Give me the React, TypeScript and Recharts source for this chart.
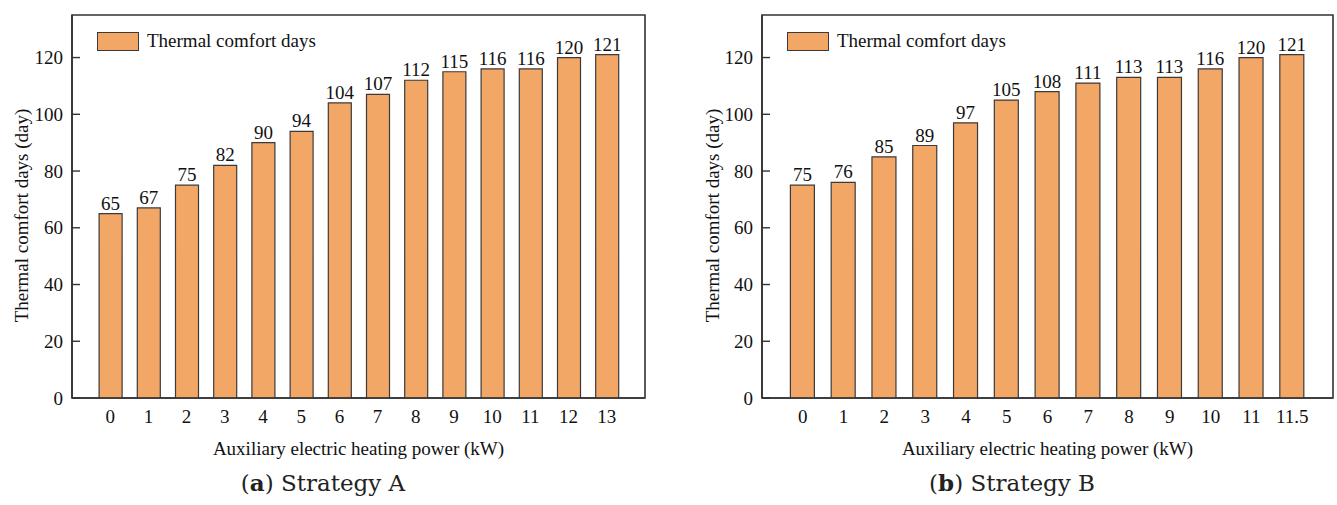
import React from "react";
import { BarChart, Bar, XAxis, YAxis, Legend, LabelList, ReferenceArea } from "recharts";

// Strategy A
const powerA = ["0", "1", "2", "3", "4", "5", "6", "7", "8", "9", "10", "11", "12", "13"];
const daysA = [65, 67, 75, 82, 90, 94, 104, 107, 112, 115, 116, 116, 120, 121];

// Strategy B
const powerB = ["0", "1", "2", "3", "4", "5", "6", "7", "8", "9", "10", "11", "11.5"];
const daysB = [75, 76, 85, 89, 97, 105, 108, 111, 113, 113, 116, 120, 121];

const yTicks = [0, 20, 40, 60, 80, 100, 120];
const Y_MAX = 135;

const FONT = "'Liberation Serif', 'Times New Roman', serif";
const CAPTION_FONT = "'DejaVu Serif', serif";
const FS = 19;
const FILL = "#F3A766";
const EDGE = "#3a3a3a";
const AXIS = "#333333";

const YTick = (props: any) => {
  const { x, y, payload } = props;
  return (
    <g>
      <line x1={x + 9} x2={x + 17} y1={y} y2={y} stroke={AXIS} strokeWidth={1.4} />
      <text x={x} y={y} dy="0.35em" textAnchor="end" fontFamily={FONT} fontSize={FS} fill="#111">
        {payload.value}
      </text>
    </g>
  );
};

// rotated y title, a bit below the plot middle like the original
const YTitle = (props: any) => {
  const { viewBox, xPos, shift } = props;
  if (!viewBox) return null;
  const x = viewBox.x + xPos;
  const y = viewBox.y + viewBox.height / 2 + shift;
  return (
    <text
      x={x}
      y={y}
      transform={`rotate(-90, ${x}, ${y})`}
      textAnchor="middle"
      dominantBaseline="central"
      fontFamily={FONT}
      fontSize={FS}
      fill="#111"
    >
      Thermal comfort days (day)
    </text>
  );
};

const LegendBox = (props: any) => {
  const item = props.payload && props.payload[0];
  return (
    <div style={{ display: "flex", alignItems: "center", fontFamily: FONT, fontSize: FS, color: "#111" }}>
      <span
        style={{
          width: 42,
          height: 19,
          background: FILL,
          border: `1px solid ${EDGE}`,
          boxSizing: "border-box",
          marginRight: 8,
          display: "inline-block",
        }}
      />
      <span>{item ? item.value : ""}</span>
    </div>
  );
};

interface PanelProps {
  left: number;
  width: number;
  marginRight: number;
  categories: string[];
  values: number[];
  barSize: number;
  titleX: number;
  captionCenter: number;
  captionLetter: string;
  captionText: string;
}

const Panel: React.FC<PanelProps> = ({
  left,
  width,
  marginRight,
  categories,
  values,
  barSize,
  titleX,
  captionCenter,
  captionLetter,
  captionText,
}) => {
  // bars sit on integer slots, one empty slot of room at each end
  const data = categories.map((c, i) => ({ slot: i, power: c, days: values[i] }));
  const slots = data.map((d) => d.slot);

  return (
    <div style={{ position: "absolute", left, top: 0, width, height: 505 }}>
      <BarChart
        width={width}
        height={470}
        data={data}
        margin={{ top: 15, right: marginRight, bottom: 12, left: 0 }}
      >
        <XAxis
          dataKey="slot"
          type="number"
          domain={[-1, categories.length]}
          ticks={slots}
          tickFormatter={(v: number) => categories[v]}
          height={60}
          tickLine={false}
          tickSize={0}
          tickMargin={12}
          axisLine={{ stroke: AXIS, strokeWidth: 1.6 }}
          tick={{ fontFamily: FONT, fontSize: FS, fill: "#111" }}
          interval={0}
          label={{
            value: "Auxiliary electric heating power (kW)",
            position: "insideBottom",
            offset: 3,
            style: { fontFamily: FONT, fontSize: FS, fill: "#111" },
          }}
        />
        <YAxis
          width={72}
          domain={[0, Y_MAX]}
          ticks={yTicks}
          allowDataOverflow
          tickLine={false}
          tickSize={0}
          tickMargin={9}
          axisLine={{ stroke: AXIS, strokeWidth: 1.6 }}
          tick={<YTick />}
          label={<YTitle xPos={titleX} shift={9} />}
        />
        {/* frame round the plot */}
        <ReferenceArea y1={0} y2={Y_MAX} fill="none" stroke={AXIS} strokeWidth={1.6} ifOverflow="visible" />
        <Legend
          layout="vertical"
          verticalAlign="middle"
          align="center"
          content={<LegendBox />}
          wrapperStyle={{ left: 97, top: 30, width: "auto", height: "auto" }}
        />
        <Bar
          dataKey="days"
          name="Thermal comfort days"
          fill={FILL}
          stroke={EDGE}
          strokeWidth={1.2}
          barSize={barSize}
          isAnimationActive={false}
        >
          <LabelList dataKey="days" position="top" offset={4} fontFamily={FONT} fontSize={FS} fill="#111" />
        </Bar>
      </BarChart>
      <div
        style={{
          position: "absolute",
          left: captionCenter - 150,
          width: 300,
          top: 467,
          lineHeight: "32px",
          textAlign: "center",
          fontFamily: CAPTION_FONT,
          fontSize: 23,
          color: "#222",
          whiteSpace: "nowrap",
        }}
      >
        (<b>{captionLetter}</b>) {captionText}
      </div>
    </div>
  );
};

export default function App() {
  return (
    <div style={{ position: "absolute", left: 0, top: 0, width: 1337, height: 505, background: "#fff" }}>
      <Panel
        left={0}
        width={660}
        marginRight={15}
        categories={powerA}
        values={daysA}
        barSize={23}
        titleX={21}
        captionCenter={323}
        captionLetter="a"
        captionText="Strategy A"
      />
      <Panel
        left={690}
        width={647}
        marginRight={4}
        categories={powerB}
        values={daysB}
        barSize={24}
        titleX={22}
        captionCenter={322}
        captionLetter="b"
        captionText="Strategy B"
      />
    </div>
  );
}
